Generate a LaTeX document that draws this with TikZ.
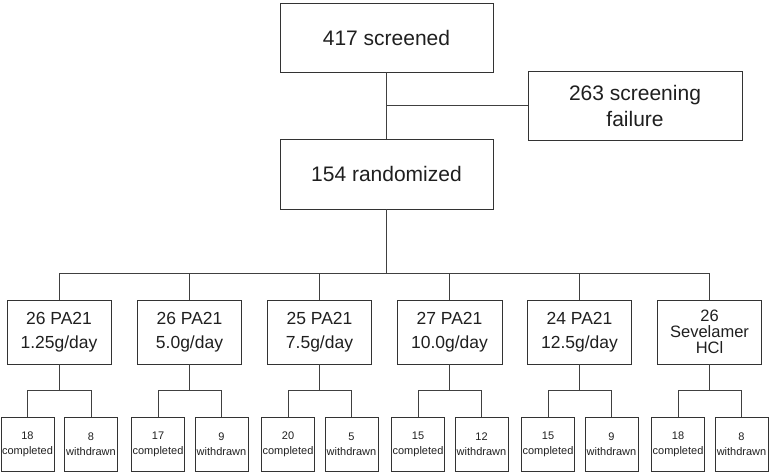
\documentclass[tikz,border=0pt]{standalone}
\usepackage{fontspec}
\setmainfont{Liberation Sans}
\begin{document}
\begin{tikzpicture}[x=1pt,y=-1pt,
  box/.style={draw=black!80,line width=0.9pt,inner sep=0pt,align=center,text=black!88},
  bigbox/.style={box,minimum width=213pt,minimum height=69pt,font=\fontsize{21}{26}\selectfont},
  midbox/.style={box,minimum width=104pt,minimum height=64pt,font=\fontsize{17.5}{24}\selectfont},
  smallbox/.style={box,minimum width=53pt,minimum height=54pt,font=\fontsize{11}{15}\selectfont},
  conn/.style={draw=black!75,line width=0.9pt}]
\useasboundingbox (0,0) rectangle (770,472);
\node[bigbox] (scr) at (386.5,37.5) {417 screened};
\node[bigbox,minimum width=214pt] (fail) at (635,105.5) {263 screening\\failure};
\node[bigbox,minimum height=70pt] (rand) at (386.5,174) {154 randomized};
\coordinate (bus) at (0,273);
\coordinate (sub) at (0,390);
\node[midbox] (m1) at (59,332) {26 PA21\\1.25g/day};
\node[midbox] (m2) at (189.5,332) {26 PA21\\5.0g/day};
\node[midbox] (m3) at (319.5,332) {25 PA21\\7.5g/day};
\node[midbox,minimum width=105pt] (m4) at (449.5,332) {27 PA21\\10.0g/day};
\node[midbox] (m5) at (579.5,332) {24 PA21\\12.5g/day};
\node[midbox,font=\fontsize{16.5}{16}\selectfont] (m6) at (709.5,332) {26\\Sevelamer\\HCl};
\foreach \i/\n/\m in {1/18/8,2/17/9,3/20/5,4/15/12,5/15/9,6/18/8}{
  \path (m\i.south) ++(-31.5,0) coordinate (cx\i);
  \path (m\i.south) ++(32,0) coordinate (wx\i);
  \node[smallbox] (c\i) at (cx\i |- 0,444) {\n\\completed};
  \node[smallbox] (w\i) at (wx\i |- 0,444) {\m\\withdrawn};
  \draw[conn] (m\i.south) -- (m\i.south |- sub);
  \draw[conn] (c\i.north) -- (c\i.north |- sub) -- (w\i.north |- sub) -- (w\i.north);
  \draw[conn] (m\i.north) -- (m\i.north |- bus);
}
\draw[conn] (scr.south) -- (rand.north);
\draw[conn] (fail.west) -- (fail.west -| scr.south);
\draw[conn] (rand.south) -- (rand.south |- bus);
\draw[conn] (m1.north |- bus) -- (m6.north |- bus);
\end{tikzpicture}
\end{document}
